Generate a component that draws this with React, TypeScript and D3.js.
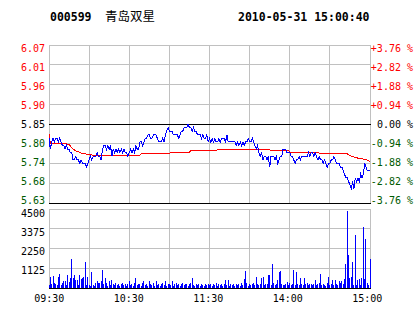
import React from "react";
import * as d3 from "d3";

const stockCode = "000599";
const stockName = "青岛双星";
const timestamp = "2010-05-31 15:00:40";
const prevClose = 5.85;

const priceTickLabels = ["6.07", "6.01", "5.96", "5.90", "5.85", "5.80", "5.74", "5.68", "5.63"];
const pctTickLabels = ["+3.76 %", "+2.82 %", "+1.88 %", "+0.94 %", "0.00 %", "-0.94 %", "-1.88 %", "-2.82 %", "-3.76 %"];
const pctSteps = [4, 3, 2, 1, 0, -1, -2, -3, -4];
const volTicks = [4500, 3375, 2250, 1125];
const volTickLabels = ["4500", "3375", "2250", "1125"];
const timeLabels = ["09:30", "10:30", "11:30", "14:00", "15:00"];

// one value per trading minute (0..240)
const prices = [
  5.81, 5.78, 5.80, 5.81, 5.80, 5.81, 5.81, 5.80, 5.81, 5.80,
  5.79, 5.79, 5.78, 5.79, 5.78, 5.78, 5.77, 5.77, 5.75, 5.75,
  5.76, 5.75, 5.75, 5.74, 5.75, 5.74, 5.74, 5.74, 5.73, 5.74,
  5.75, 5.76, 5.75, 5.76, 5.76, 5.76, 5.77, 5.76, 5.76, 5.75,
  5.78, 5.79, 5.79, 5.78, 5.79, 5.78, 5.79, 5.76, 5.78, 5.77,
  5.78, 5.77, 5.78, 5.77, 5.78, 5.77, 5.78, 5.77, 5.77, 5.76,
  5.77, 5.78, 5.77, 5.78, 5.77, 5.79, 5.78, 5.78, 5.80, 5.80,
  5.79, 5.80, 5.81, 5.81, 5.82, 5.82, 5.81, 5.81, 5.82, 5.82,
  5.82, 5.81, 5.80, 5.80, 5.80, 5.81, 5.80, 5.82, 5.83, 5.84,
  5.83, 5.83, 5.83, 5.82, 5.82, 5.82, 5.82, 5.81, 5.82, 5.83,
  5.83, 5.84, 5.84, 5.84, 5.85, 5.84, 5.84, 5.83, 5.84, 5.83,
  5.83, 5.82, 5.82, 5.82, 5.81, 5.82, 5.81, 5.81, 5.82, 5.80,
  5.81, 5.80, 5.81, 5.80, 5.81, 5.80, 5.80, 5.81, 5.80, 5.81,
  5.81, 5.81, 5.80, 5.82, 5.80, 5.80, 5.80, 5.80, 5.80, 5.80,
  5.79, 5.80, 5.79, 5.80, 5.79, 5.80, 5.79, 5.80, 5.80, 5.81,
  5.80, 5.80, 5.81, 5.80, 5.79, 5.78, 5.79, 5.77, 5.76, 5.77,
  5.75, 5.76, 5.76, 5.75, 5.76, 5.73, 5.76, 5.76, 5.76, 5.75,
  5.76, 5.74, 5.75, 5.76, 5.76, 5.78, 5.78, 5.78, 5.77, 5.77,
  5.77, 5.76, 5.76, 5.75, 5.74, 5.75, 5.75, 5.76, 5.75, 5.76,
  5.76, 5.76, 5.76, 5.76, 5.77, 5.76, 5.77, 5.77, 5.76, 5.77,
  5.76, 5.75, 5.76, 5.75, 5.75, 5.74, 5.75, 5.74, 5.73, 5.74,
  5.74, 5.75, 5.75, 5.76, 5.75, 5.74, 5.74, 5.74, 5.73, 5.73,
  5.72, 5.71, 5.70, 5.70, 5.69, 5.68, 5.67, 5.69, 5.67, 5.70,
  5.69, 5.70, 5.69, 5.71, 5.70, 5.71, 5.74, 5.73, 5.72, 5.72,
  5.72,
];

// average price line, read at its turning points
const avgMinutes = [0, 1, 10, 15, 18, 20, 25, 33, 68, 69, 90, 91, 105, 106, 125, 126, 165, 166, 179, 180, 201, 202, 222, 225, 229, 232, 237, 240];
const avgPrices = [5.823, 5.797, 5.797, 5.793, 5.780, 5.775, 5.768, 5.763, 5.763, 5.767, 5.767, 5.772, 5.772, 5.776, 5.776, 5.779, 5.779, 5.776, 5.776, 5.772, 5.772, 5.769, 5.769, 5.762, 5.757, 5.754, 5.751, 5.746];

const volumes = [
  150, 650, 200, 700, 285, 250, 150, 630, 820, 150,
  285, 380, 420, 150, 760, 325, 570, 1670, 570, 760,
  475, 475, 150, 760, 530, 570, 600, 1460, 190, 630,
  190, 120, 890, 190, 120, 285, 420, 285, 285, 420,
  1045, 200, 570, 285, 120, 380, 150, 440, 200, 150,
  285, 150, 250, 120, 200, 285, 150, 250, 120, 200,
  420, 150, 250, 120, 285, 570, 150, 200, 250, 120,
  285, 380, 150, 250, 120, 380, 200, 150, 285, 120,
  420, 150, 250, 120, 200, 285, 150, 380, 120, 200,
  250, 150, 420, 120, 200, 285, 150, 250, 120, 200,
  285, 150, 200, 250, 120, 200, 285, 570, 150, 120,
  200, 150, 250, 120, 200, 150, 120, 250, 150, 200,
  150, 250, 120, 200, 150, 285, 120, 200, 150, 250,
  120, 200, 475, 150, 475, 120, 250, 150, 200, 120,
  250, 150, 200, 120, 285, 150, 530, 990, 285, 120,
  250, 150, 200, 285, 150, 630, 200, 150, 250, 570,
  630, 150, 200, 250, 760, 720, 150, 1390, 285, 150,
  200, 475, 890, 950, 250, 150, 190, 250, 340, 150,
  285, 150, 200, 1045, 150, 910, 250, 150, 570, 200,
  150, 570, 200, 285, 150, 250, 200, 150, 250, 475,
  150, 200, 285, 820, 150, 250, 190, 120, 285, 630,
  150, 200, 475, 150, 475, 200, 150, 380, 285, 380,
  200, 530, 1390, 4410, 1900, 570, 600, 1460, 190, 3040,
  190, 475, 530, 190, 570, 3480, 530, 2810, 285, 190,
  1650,
];

const W = 414;
const H = 314;
const RED = "#ff0000";
const GREEN = "#005a00";
const GRID = "#c0c0c0";
const MONO = "'DejaVu Sans Mono', monospace";

export default function App() {
  const x = d3.scaleLinear().domain([0, 240]).range([49, 370]);
  const y = d3.scaleLinear().domain([prevClose * (1 - 0.0376), prevClose * (1 + 0.0376)]).range([203, 45]);
  const yLabel = d3.scaleLinear().domain([prevClose * (1 - 0.0376), prevClose * (1 + 0.0376)]).range([200.3, 48]);
  const yv = d3.scaleLinear().domain([0, 4500]).range([288, 209]);
  const yvLabel = d3.scaleLinear().domain([1125, 4500]).range([270, 213.3]);
  const px = (v: number) => Math.floor(v) + 0.5;

  const priceLine = d3.line<number>().x((_, i) => x(i)).y((d) => y(d));
  const avgLine = d3.line<number>().x((_, i) => x(avgMinutes[i])).y((d) => y(d));

  const levels = pctSteps.map((k) => prevClose * (1 + k * 0.0094));
  const colorFor = (k: number) => (k > 0 ? RED : k < 0 ? GREEN : "#000");
  const vgrid = d3.range(0, 241, 30);

  return (
    <svg width={W} height={H} style={{ position: "absolute", left: 0, top: 0, background: "#fff" }}>
      <rect width={W} height={H} fill="#fff" />
      {/* header */}
      <text x={50} y={21} fontFamily={MONO} fontWeight="bold" fontSize={11.5} fill="#000">{stockCode}</text>
      <text x={105} y={21} fontFamily="'Noto Sans CJK SC', sans-serif" fontSize={12.5} fill="#000">{stockName}</text>
      <text x={238} y={21} fontFamily={MONO} fontWeight="bold" fontSize={11.5} fill="#000">{timestamp}</text>

      {/* price grid */}
      {vgrid.map((m) => (
        <line key={"pv" + m} x1={px(x(m))} x2={px(x(m))} y1={45} y2={203} stroke={GRID} shapeRendering="crispEdges" />
      ))}
      {levels.map((p, i) => (
        <line key={"ph" + i} x1={49} x2={371} y1={px(y(p))} y2={px(y(p))}
          stroke={pctSteps[i] === 0 || pctSteps[i] === -4 ? "#000" : GRID} shapeRendering="crispEdges" />
      ))}
      {levels.map((p, i) => (
        <text key={"pl" + i} x={45} y={yLabel(p)} dy="0.36em" textAnchor="end" fontFamily={MONO} fontSize={10}
          fill={colorFor(pctSteps[i])}>{priceTickLabels[i]}</text>
      ))}
      {levels.map((p, i) => (
        <text key={"pr" + i} x={413} y={yLabel(p)} dy="0.36em" textAnchor="end" fontFamily={MONO} fontSize={10}
          fill={colorFor(pctSteps[i])}>{pctTickLabels[i]}</text>
      ))}

      {/* price and average lines */}
      <path d={avgLine(avgPrices) || ""} fill="none" stroke={RED} strokeWidth={1} shapeRendering="crispEdges" />
      <path d={priceLine(prices) || ""} fill="none" stroke="#0000ff" strokeWidth={1} shapeRendering="crispEdges" />

      {/* volume grid */}
      {vgrid.map((m) => (
        <line key={"vv" + m} x1={px(x(m))} x2={px(x(m))} y1={209} y2={288} stroke={GRID} shapeRendering="crispEdges" />
      ))}
      {volTicks.map((v) => (
        <line key={"vh" + v} x1={49} x2={371} y1={px(yv(v))} y2={px(yv(v))} stroke={GRID} shapeRendering="crispEdges" />
      ))}
      {volTicks.map((v, i) => (
        <text key={"vl" + v} x={45} y={yvLabel(v)} dy="0.36em" textAnchor="end" fontFamily={MONO} fontSize={10} fill="#000">
          {volTickLabels[i]}
        </text>
      ))}
      {volumes.map((v, i) => (
        <rect key={"b" + i} x={Math.floor(x(i))} y={yv(v)} width={1} height={yv(0) - yv(v)} fill="#0000ff" shapeRendering="crispEdges" />
      ))}
      <line x1={49} x2={371} y1={288.5} y2={288.5} stroke="#000" shapeRendering="crispEdges" />

      {/* time labels */}
      {timeLabels.map((t, i) => (
        <text key={t} x={49.3 + i * 79.5} y={298.3} dy="0.36em" textAnchor="middle" fontFamily={MONO} fontSize={10} fill="#000">{t}</text>
      ))}
    </svg>
  );
}
